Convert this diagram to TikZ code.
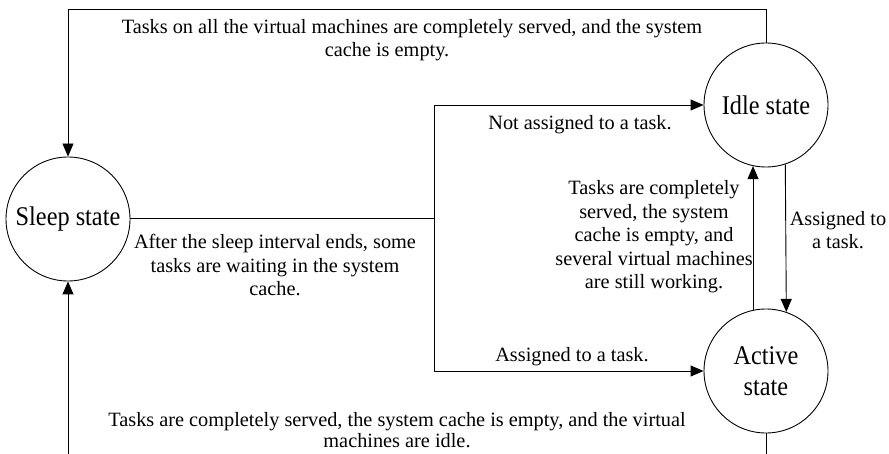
\documentclass[tikz,border=0pt]{standalone}
\usepackage{fontspec}
\setmainfont{Liberation Serif}
\newfontfamily\statefont[FakeStretch=0.9]{Liberation Serif}
\usetikzlibrary{arrows.meta}
\begin{document}
\begin{tikzpicture}[x=1pt,y=-1pt,
  line width=0.9pt,
  state/.style={circle,draw,minimum size=124pt,inner sep=0pt,align=center,font=\statefont\fontsize{27}{31}\selectfont},
  lbl/.style={inner sep=0pt,align=center,font=\fontsize{20.3}{23.5}\selectfont},
  arr/.style={-{Triangle[length=13pt,width=11pt]}}]
\useasboundingbox (0,0) rectangle (889,454);
\node[state] (sleep) at (68,219) {Sleep state};
\node[state] (idle) at (766,105) {Idle state};
\node[state] (active) at (766,371) {Active\\state};
\coordinate (top) at (0,9);
\coordinate (jn) at (434,218);
\coordinate (b1) at (766,454);
\coordinate (b2) at (68,454);
% idle -> sleep (top)
\draw[arr] (idle.north) -- (idle.north |- top) -- (sleep.north |- top) -- (sleep.north);
% sleep -> junction -> idle / active
\draw (sleep.east |- jn) -- (jn);
\draw[arr] (jn) -- (jn |- idle.west) -- (idle.west);
\draw[arr] (jn) -- (jn |- active.west) -- (active.west);
% active <-> idle
\draw[arr] (active.102) -- (idle.258);
\draw[arr] (idle.288.8) -- (active.71.2);
% active -> sleep (bottom, cut off)
\draw (active.south) -- (b1);
\draw[arr] (b2) -- (sleep.south);
% labels
\node[lbl] (ltop) at (412,40) {Tasks on all the virtual machines are completely served, and the system\\cache is empty.\hspace*{50pt}};
\node[lbl] (lsleep) at (275,265) {After the sleep interval ends, some\\tasks are waiting in the system\\cache.};
\node[lbl] (lnot) at (580,125) {Not assigned to a task.};
\node[lbl] (lup) at (654,237) {Tasks are completely\\served, the system\\cache is empty, and\\several virtual machines\\are still working.};
\node[lbl] (ldown) at (838,230) {Assigned to\\a task.};
\node[lbl] (lact) at (572,357) {Assigned to a task.};
\node[lbl,font=\fontsize{20.3}{21.5}\selectfont] (lbot) at (397,430) {Tasks are completely served, the system cache is empty, and the virtual\\machines are idle.};
\end{tikzpicture}
\end{document}
